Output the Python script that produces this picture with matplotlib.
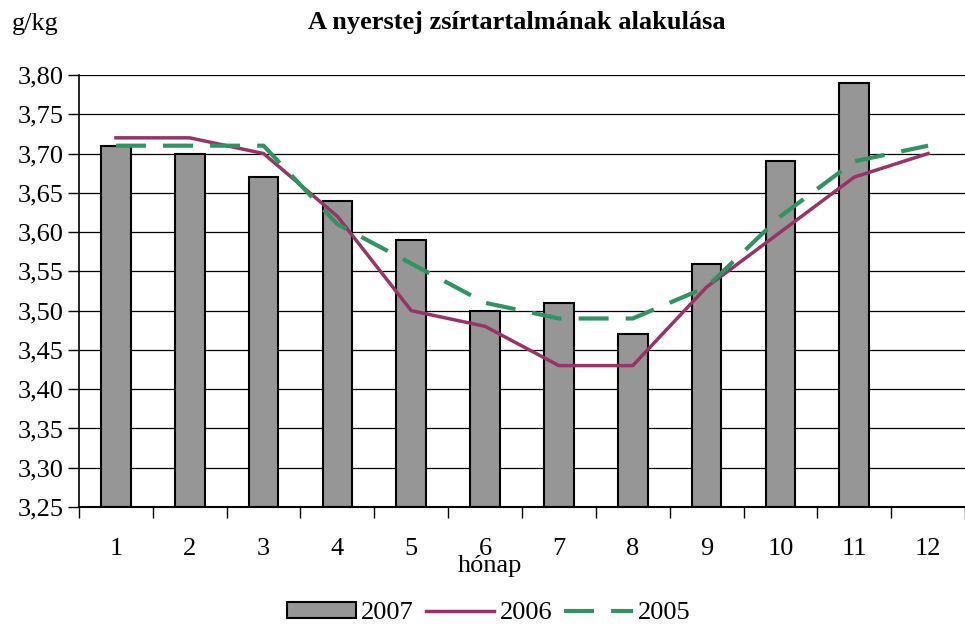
import matplotlib
matplotlib.use("Agg")
import matplotlib.pyplot as plt
import numpy as np

plt.rcParams['font.family'] = ['Liberation Serif', 'DejaVu Serif']

months = [1, 2, 3, 4, 5, 6, 7, 8, 9, 10, 11, 12]
month_labels = [str(m) for m in months]
fat_2007 = [3.71, 3.70, 3.67, 3.64, 3.59, 3.50, 3.51, 3.47, 3.56, 3.69, 3.79]
fat_2006 = [3.72, 3.72, 3.70, 3.62, 3.50, 3.48, 3.43, 3.43, 3.53, 3.60, 3.67, 3.70]
fat_2005 = [3.71, 3.71, 3.71, 3.61, 3.56, 3.51, 3.49, 3.49, 3.53, 3.62, 3.69, 3.71]
y_ticks = [3.25, 3.30, 3.35, 3.40, 3.45, 3.50, 3.55, 3.60, 3.65, 3.70, 3.75, 3.80]

FS = 19

fig = plt.figure(figsize=(9.65, 6.27), dpi=100)
# plot area in pixels: x 79..965, y 75..507
ax = fig.add_axes([79 / 965, 1 - 507 / 627, 886 / 965, 432 / 627])

bottom = y_ticks[0]
bars = ax.bar(months[:len(fat_2007)], np.array(fat_2007) - bottom, bottom=bottom, width=0.4,
              color='#969696', edgecolor='black', linewidth=1.5, label='2007', zorder=2)
l06, = ax.plot(months, fat_2006, color='#993366', linewidth=2.5, label='2006', zorder=3)
l05, = ax.plot(months, fat_2005, color='#2e9462', linewidth=3, dashes=(7.2, 4.1),
               label='2005', zorder=4)

ax.set_ylim(3.25, 3.80)
ax.set_xlim(0.5, 0.5 + 886 / 74.65)
ax.set_yticks(y_ticks)
ax.set_yticklabels([f"{v:.2f}".replace('.', ',') for v in y_ticks], fontsize=FS)
ax.yaxis.grid(True, color='black', linewidth=0.9)
ax.set_axisbelow(True)

# category labels without ticks, tick marks between categories
ax.set_xticks(months)
ax.set_xticklabels(month_labels, fontsize=FS)
ax.tick_params(axis='x', which='major', length=0, pad=22)
ax.set_xticks(np.arange(0.5, 13, 1), minor=True)
ax.tick_params(axis='x', which='minor', length=8, width=1, direction='out')
ax.tick_params(axis='y', length=8, width=1, direction='out', pad=3)

for side in ['top', 'right']:
    ax.spines[side].set_visible(False)
ax.spines['left'].set_linewidth(1.2)
ax.spines['bottom'].set_linewidth(1.5)

fig.text(12 / 965, 1 - 24 / 627, 'g/kg', fontsize=FS, va='center', ha='left')
fig.text(517 / 965, 1 - 22 / 627, 'A nyerstej zsírtartalmának alakulása',
         fontsize=FS, fontweight='bold', va='center', ha='center')
fig.text(490 / 965, 1 - 566 / 627, 'hónap', fontsize=FS, va='center', ha='center')

fig.legend([bars, l06, l05], ['2007', '2006', '2005'], loc='center',
           bbox_to_anchor=(489 / 965, 1 - 613 / 627), ncol=3,
           frameon=False, fontsize=FS, handlelength=2.6, handleheight=0.55,
           columnspacing=0.45, handletextpad=0.2, borderpad=0)

fig.savefig('out.png', dpi=100)
